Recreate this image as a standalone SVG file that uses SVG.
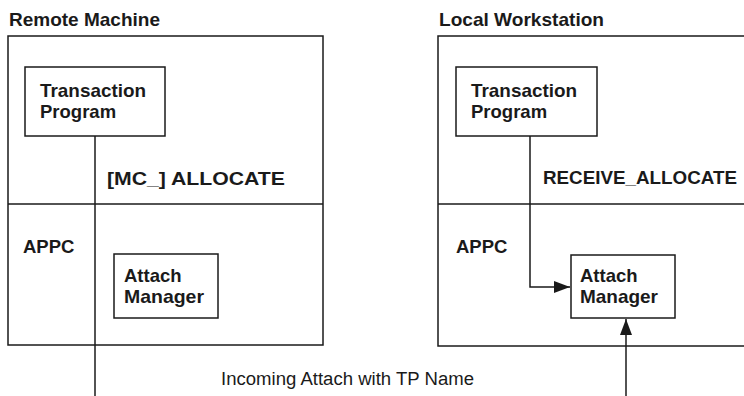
<svg xmlns="http://www.w3.org/2000/svg" width="744" height="396" viewBox="0 0 744 396">
<defs>
<style>
.box{fill:none;stroke:#1a1a1a;stroke-width:1.5}
.ln{fill:none;stroke:#1a1a1a;stroke-width:1.5}
.b{font-family:"Liberation Sans",Arial,sans-serif;font-weight:bold;font-size:18.5px;fill:#1a1a1a}
.r{font-family:"Liberation Sans",Arial,sans-serif;font-size:18px;fill:#1a1a1a}
</style>
<marker id="ah" viewBox="0 0 16 12" refX="16" refY="6" markerWidth="16" markerHeight="12" markerUnits="userSpaceOnUse" orient="auto">
<path d="M0,0 L16,6 L0,12 Z" fill="#1a1a1a"/>
</marker>
</defs>
<rect width="744" height="396" fill="#ffffff"/>

<g id="remote-machine">
<text class="b" x="9" y="26" textLength="151" lengthAdjust="spacingAndGlyphs">Remote Machine</text>
<rect class="box" x="8" y="36" width="315" height="309"/>
<line class="ln" x1="8" y1="204" x2="323" y2="204"/>
<text class="b" x="23" y="253">APPC</text>
</g>
<g id="remote-tp">
<rect class="box" x="25" y="67" width="140" height="69"/>
<text class="b" x="40" y="97" textLength="106" lengthAdjust="spacingAndGlyphs">Transaction</text>
<text class="b" x="40" y="118">Program</text>
</g>
<g id="remote-am">
<rect class="box" x="114" y="254" width="104" height="64"/>
<text class="b" x="124" y="282">Attach</text>
<text class="b" x="124" y="303" textLength="80" lengthAdjust="spacingAndGlyphs">Manager</text>
</g>

<g id="local-workstation">
<text class="b" x="439" y="26" textLength="165" lengthAdjust="spacingAndGlyphs">Local Workstation</text>
<rect class="box" x="438" y="36" width="320" height="310"/>
<line class="ln" x1="438" y1="204" x2="744" y2="204"/>
<text class="b" x="456" y="253">APPC</text>
</g>
<g id="local-tp">
<rect class="box" x="456" y="67" width="141" height="69"/>
<text class="b" x="471" y="97" textLength="106" lengthAdjust="spacingAndGlyphs">Transaction</text>
<text class="b" x="471" y="118">Program</text>
</g>
<g id="local-am">
<rect class="box" x="571" y="255" width="104" height="63"/>
<text class="b" x="580" y="282">Attach</text>
<text class="b" x="580" y="303" textLength="78" lengthAdjust="spacingAndGlyphs">Manager</text>
</g>

<g id="connectors">
<line class="ln" x1="95" y1="136" x2="95" y2="396"/>
<text class="b" x="107" y="185" textLength="178" lengthAdjust="spacingAndGlyphs">[MC_] ALLOCATE</text>
<polyline class="ln" points="530,136 530,287 570,287" marker-end="url(#ah)"/>
<text class="b" x="543" y="184" textLength="194" lengthAdjust="spacingAndGlyphs">RECEIVE_ALLOCATE</text>
<line class="ln" x1="626" y1="396" x2="626" y2="319" marker-end="url(#ah)"/>
<text class="r" x="221" y="385" textLength="253" lengthAdjust="spacingAndGlyphs">Incoming Attach with TP Name</text>
</g>
</svg>
